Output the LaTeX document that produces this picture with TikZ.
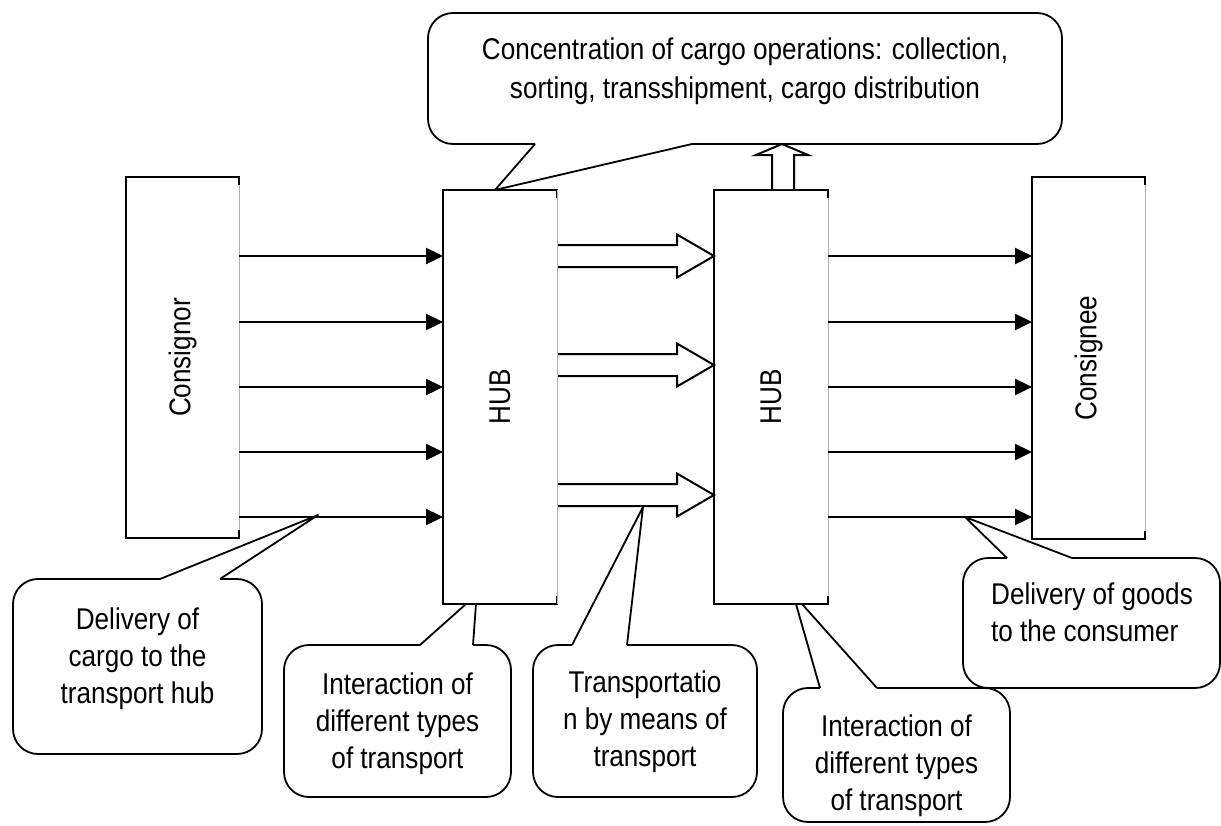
\documentclass[tikz,border=0pt]{standalone}
\usepackage{fontspec}
\setmainfont{Liberation Sans}[FakeStretch=0.87]
\usetikzlibrary{arrows.meta,calc}
\newcommand{\txtfont}{\fontsize{30}{37}\selectfont}
\newcommand{\toptxtfont}{\fontsize{30}{39}\selectfont}
% callout with pointer on top edge: x1,y1,x2,y2,b1x,b2x,{tip path}
\newcommand{\calltop}[7]{%
  \draw[callline,rounded corners=25pt,fill=white] (#6,#2) -- (#3,#2) -- (#3,#4) -- (#1,#4) -- (#1,#2) -- (#5,#2);
  \draw[callline,fill=white] (#5,#2) -- #7 -- (#6,#2);}
% callout with pointer on bottom edge
\newcommand{\callbottom}[7]{%
  \draw[callline,rounded corners=25pt,fill=white] (#6,#4) -- (#3,#4) -- (#3,#2) -- (#1,#2) -- (#1,#4) -- (#5,#4);
  \draw[callline,fill=white] (#5,#4) -- #7 -- (#6,#4);}
\newcommand{\boxoutline}[1]{%
  \draw[boxline] (#1.north east) -- (#1.north west) -- (#1.south west) -- (#1.south east);
  \draw[edgegray] (#1.north east) -- (#1.south east);
  \draw[boxline] (#1.north east) -- ++(0,7);
  \draw[boxline] (#1.south east) -- ++(0,-7);}
\newcommand{\blockarrow}[1]{%
  \draw[blockline,fill=white] (hub1.east |- 0,{#1-11}) -- (677,{#1-11}) -- (677,{#1-21.5}) -- (hub2.west |- 0,#1) -- (677,{#1+21.5}) -- (677,{#1+11}) -- (hub1.east |- 0,{#1+11});}
\begin{document}
\begin{tikzpicture}[x=1pt,y=-1pt,
  boxline/.style={line width=1.9pt, line cap=rect, line join=miter},
  edgegray/.style={line width=1pt, draw=black!30},
  callline/.style={line width=1.8pt, line join=round},
  blockline/.style={line width=2pt, line join=miter},
  box/.style={draw=none, fill=white, inner sep=0pt, outer sep=0pt},
  lbl/.style={font=\txtfont, inner sep=0pt},
  txt/.style={font=\txtfont, inner sep=0pt, align=center, anchor=north},
  arr/.style={line width=2.4pt, -{Triangle[length=17pt,width=16pt]}}]
\useasboundingbox (0,0) rectangle (1221,825);

% ---- callouts ----
\callbottom{428}{13}{1062}{144}{535}{692}{(495,190)}
\node[txt, font=\toptxtfont] (conc) at (745,38) {Concentration of cargo operations: collection,\\sorting, transshipment, cargo distribution};

\calltop{13}{579}{262}{754}{160}{220}{(318,515)}
\node[txt] (cargo) at (137.5,608) {Delivery of\\cargo to the\\transport hub};

\calltop{284}{645}{511}{797}{420}{473}{(466,604) -- (476,604)}
\node[txt] (inter1) at (397.5,673) {Interaction of\\different types\\of transport};

\calltop{533}{645}{757}{797}{572}{627}{(643,507)}
\node[txt] (transp) at (645,671) {Transportatio\\n by means of\\transport};

\calltop{963}{558}{1220}{688}{1007}{1072}{(965,517)}
\node[txt, align=left, anchor=north west] (goods) at (991,583) {Delivery of goods\\to the consumer};

\calltop{783}{688}{1010}{822}{820}{877}{(796,604) -- (802,604)}
\node[txt] (inter2) at (896.5,715) {Interaction of\\different types\\of transport};

% ---- boxes ----
\node[box, minimum width=113pt, minimum height=361pt] (consignor) at (182.5,357.5) {};
\node[box, minimum width=114pt, minimum height=414pt] (hub1) at (500,397) {};
\node[box, minimum width=114pt, minimum height=414pt] (hub2) at (771,397) {};
\node[box, minimum width=113pt, minimum height=362pt] (consignee) at (1088.5,358) {};
\boxoutline{consignor}
\boxoutline{hub1}
\boxoutline{hub2}
\boxoutline{consignee}
\node[lbl, rotate=90] (consignorlbl) at (consignor.center) {Consignor};
\node[lbl, rotate=90] (hub1lbl) at (hub1.center) {HUB};
\node[lbl, rotate=90] (hub2lbl) at (hub2.center) {HUB};
\node[lbl, rotate=90] (consigneelbl) at (consignee.center) {Consignee};

% ---- thin arrows ----
\foreach \yy [count=\i] in {256,322,387,452,517} {
  \coordinate (r\i) at (0,\yy);
  \draw[arr] (consignor.east |- r\i) -- (hub1.west |- r\i);
  \draw[arr] (hub2.east |- r\i) -- (consignee.west |- r\i);
}

% ---- block arrows ----
\blockarrow{256}
\blockarrow{365}
\blockarrow{495}
\draw[edgegray] (hub1.north east) -- (hub1.south east);

% ---- upward block arrow ----
\draw[blockline,fill=white] (772,189) -- (772,155) -- (756,155) -- (782,144) -- (808,155) -- (794,155) -- (794,189);
\end{tikzpicture}
\end{document}
